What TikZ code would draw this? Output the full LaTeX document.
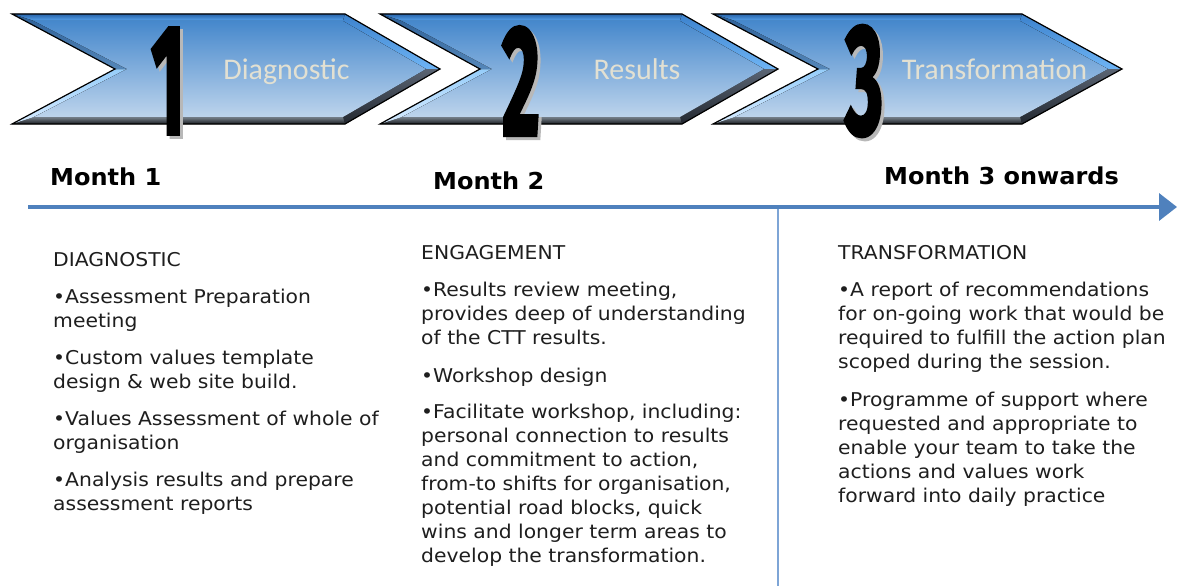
\documentclass[tikz,border=0pt]{standalone}
\usepackage{fontspec}
\setmainfont{DejaVu Sans}
\newfontfamily\labelfont{Carlito}
\newfontfamily\numfont{Fira Sans}[FakeBold=2.5]
\usetikzlibrary{arrows.meta}

\definecolor{timeline}{HTML}{4F81BD}
\definecolor{divider}{HTML}{7EA5D6}
\definecolor{bodytext}{HTML}{1E1E1E}
\definecolor{chevlabel}{HTML}{E2E0D2}
\definecolor{innertop}{HTML}{4688CC}
\definecolor{innermid}{HTML}{80B0E2}
\definecolor{innerbot}{HTML}{BDD4EC}

\tikzset{
  digit/.style={font=\numfont\bfseries\fontsize{64}{64}\selectfont, inner sep=0pt, yscale=2.45, xscale=1.15},
  digitshadow/.style={digit, text=black!28},
  chevtext/.style={font=\labelfont\fontsize{30}{30}\selectfont, text=chevlabel, inner sep=0pt, anchor=base},
  month/.style={font=\bfseries\fontsize{23.3}{23.3}\selectfont, text=black, inner sep=0pt, anchor=west, xscale=1.03},
  column/.style={font=\fontsize{19}{24}\selectfont, text=bodytext, inner sep=0pt, anchor=north west, align=left, xscale=1.07},
}

% One bevelled chevron: left x, notch x, top-right x, tip x
\newcommand\chevronshape[4]{%
  \coordinate (A) at (#1,14);
  \coordinate (B) at (#3,14);
  \coordinate (C) at (#4,69);
  \coordinate (D) at (#3,124);
  \coordinate (E) at (#1,124);
  \coordinate (F) at (#2,69);
  \coordinate (Ai) at ({#1+22},21);
  \coordinate (Bi) at ({#3-2},21);
  \coordinate (Ci) at ({#4-14},69);
  \coordinate (Di) at ({#3-2},117);
  \coordinate (Ei) at ({#1+22},117);
  \coordinate (Fi) at ({#2+12},69);
  % bevel faces
  \fill[top color={rgb,255:red,40;green,100;blue,170}, bottom color={rgb,255:red,90;green,166;blue,240}] (A) -- (B) -- (Bi) -- (Ai) -- cycle;
  \fill[top color={rgb,255:red,60;green,130;blue,205}, bottom color={rgb,255:red,110;green,180;blue,245}] (B) -- (C) -- (Ci) -- (Bi) -- cycle;
  \fill[top color={rgb,255:red,90;green,100;blue,115}, bottom color={rgb,255:red,35;green,40;blue,48}] (C) -- (D) -- (Di) -- (Ci) -- cycle;
  \fill[top color={rgb,255:red,120;green,130;blue,140}, bottom color={rgb,255:red,25;green,28;blue,33}] (D) -- (E) -- (Ei) -- (Di) -- cycle;
  \fill[top color={rgb,255:red,150;green,205;blue,250}, bottom color={rgb,255:red,215;green,235;blue,255}] (E) -- (F) -- (Fi) -- (Ei) -- cycle;
  \fill[top color={rgb,255:red,45;green,95;blue,150}, bottom color={rgb,255:red,85;green,135;blue,185}] (F) -- (A) -- (Ai) -- (Fi) -- cycle;
  % face
  \fill[top color=innertop, middle color=innermid, bottom color=innerbot] (Ai) -- (Bi) -- (Ci) -- (Di) -- (Ei) -- (Fi) -- cycle;
  % outline
  \draw[black, line width=1.2pt, line join=miter] (A) -- (B) -- (C) -- (D) -- (E) -- (F) -- cycle;
}

\begin{document}
\begin{tikzpicture}[x=1pt, y=-1pt]
  \useasboundingbox (0,0) rectangle (1177,586);
  \fill[white] (0,0) rectangle (1177,586);

  % chevrons
  \chevronshape{12}{115}{345}{440}
  \chevronshape{380}{480}{682}{778}
  \chevronshape{713}{818}{1022}{1122}

  % step numbers with drop shadow
  \node[digitshadow] (d1s) at (171,84) {1};
  \node[digit] (d1) at (168,81) {1};
  \node[digitshadow] (d2s) at (524,84) {2};
  \node[digit] (d2) at (521,81) {2};
  \node[digitshadow] (d3s) at (867,84) {3};
  \node[digit] (d3) at (864,81) {3};

  % chevron titles
  \node[chevtext] (t1) at (286.5,79) {Diagnostic};
  \node[chevtext] (t2) at (637,79) {Results};
  \node[chevtext] (t3) at (994.5,79) {Transformation};

  % month headings
  \node[month] (m1) at (50,177) {Month 1};
  \node[month] (m2) at (433,181) {Month 2};
  \node[month] (m3) at (884,176) {Month 3 onwards};

  % time axis and divider
  \coordinate (axisstart) at (28,207);
  \coordinate (axisend) at (1177,207);
  \draw[timeline, line width=3.5pt, -{Triangle[length=18pt,width=27pt]}] (axisstart) -- (axisend);
  \coordinate (divtop) at (778,209);
  \coordinate (divbot) at (778,586);
  \draw[divider, line width=2pt] (divtop) -- (divbot);

  % column texts
  \node[column] (c1) at (53,252) {DIAGNOSTIC\\[13pt]
    •Assessment Preparation\\
    meeting\\[13pt]
    •Custom values template\\
    design \& web site build.\\[13pt]
    •Values Assessment of whole of\\
    organisation\\[13pt]
    •Analysis results and prepare\\
    assessment reports};

  \node[column] (c2) at (421,245) {ENGAGEMENT\\[13pt]
    •Results review meeting,\\
    provides deep of understanding\\
    of the CTT results.\\[14pt]
    •Workshop design\\[12pt]
    •Facilitate workshop, including:\\
    personal connection to results\\
    and commitment to action,\\
    from-to shifts for organisation,\\
    potential road blocks, quick\\
    wins and longer term areas to\\
    develop the transformation.};

  \node[column] (c3) at (838,245) {TRANSFORMATION\\[13pt]
    •A report of recommendations\\
    for on-going work that would be\\
    required to fulfill the action plan\\
    scoped during the session.\\[14pt]
    •Programme of support where\\
    requested and appropriate to\\
    enable your team to take the\\
    actions and values work\\
    forward into daily practice};
\end{tikzpicture}
\end{document}
